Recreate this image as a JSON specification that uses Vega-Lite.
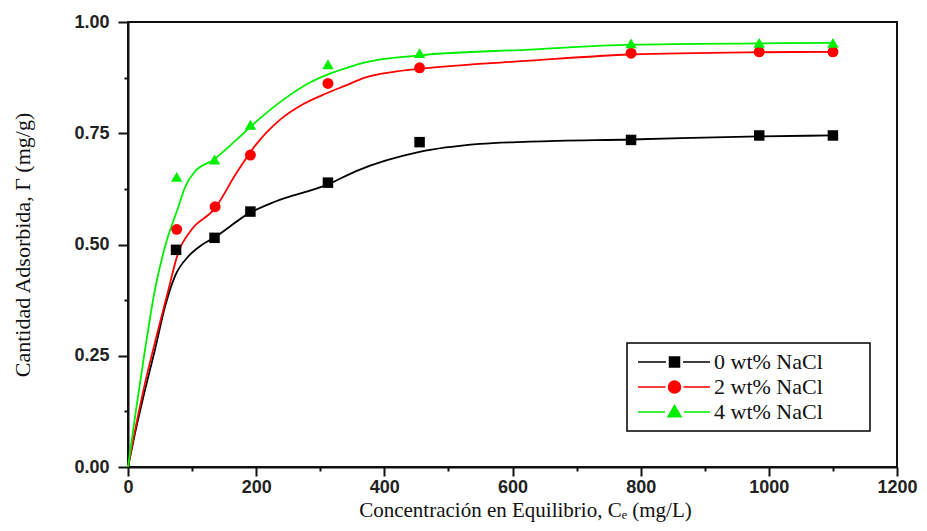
{
  "$schema": "https://vega.github.io/schema/vega-lite/v6.json",
  "width": 769,
  "height": 445,
  "autosize": {"type": "none"},
  "padding": {"left": 128, "top": 22, "right": 30, "bottom": 64},
  "background": "white",
  "datasets": {
    "fit": [
      {"x": 0, "y": 0, "series": "0 wt% NaCl"},
      {"x": 11, "y": 0.076, "series": "0 wt% NaCl"},
      {"x": 26.5, "y": 0.173, "series": "0 wt% NaCl"},
      {"x": 42, "y": 0.263, "series": "0 wt% NaCl"},
      {"x": 57.7, "y": 0.36, "series": "0 wt% NaCl"},
      {"x": 73, "y": 0.428, "series": "0 wt% NaCl"},
      {"x": 94, "y": 0.473, "series": "0 wt% NaCl"},
      {"x": 115, "y": 0.499, "series": "0 wt% NaCl"},
      {"x": 133, "y": 0.514, "series": "0 wt% NaCl"},
      {"x": 190, "y": 0.571, "series": "0 wt% NaCl"},
      {"x": 229, "y": 0.596, "series": "0 wt% NaCl"},
      {"x": 312, "y": 0.635, "series": "0 wt% NaCl"},
      {"x": 356, "y": 0.665, "series": "0 wt% NaCl"},
      {"x": 455, "y": 0.708, "series": "0 wt% NaCl"},
      {"x": 549, "y": 0.726, "series": "0 wt% NaCl"},
      {"x": 627, "y": 0.731, "series": "0 wt% NaCl"},
      {"x": 785, "y": 0.736, "series": "0 wt% NaCl"},
      {"x": 985, "y": 0.743, "series": "0 wt% NaCl"},
      {"x": 1100, "y": 0.745, "series": "0 wt% NaCl"},
      {"x": 0, "y": 0, "series": "2 wt% NaCl"},
      {"x": 11, "y": 0.083, "series": "2 wt% NaCl"},
      {"x": 26.5, "y": 0.188, "series": "2 wt% NaCl"},
      {"x": 47, "y": 0.308, "series": "2 wt% NaCl"},
      {"x": 63, "y": 0.398, "series": "2 wt% NaCl"},
      {"x": 78, "y": 0.48, "series": "2 wt% NaCl"},
      {"x": 99, "y": 0.533, "series": "2 wt% NaCl"},
      {"x": 135, "y": 0.58, "series": "2 wt% NaCl"},
      {"x": 169, "y": 0.66, "series": "2 wt% NaCl"},
      {"x": 200, "y": 0.725, "series": "2 wt% NaCl"},
      {"x": 237, "y": 0.78, "series": "2 wt% NaCl"},
      {"x": 273, "y": 0.815, "series": "2 wt% NaCl"},
      {"x": 310, "y": 0.84, "series": "2 wt% NaCl"},
      {"x": 346, "y": 0.861, "series": "2 wt% NaCl"},
      {"x": 367, "y": 0.874, "series": "2 wt% NaCl"},
      {"x": 419, "y": 0.889, "series": "2 wt% NaCl"},
      {"x": 455, "y": 0.895, "series": "2 wt% NaCl"},
      {"x": 627, "y": 0.913, "series": "2 wt% NaCl"},
      {"x": 785, "y": 0.927, "series": "2 wt% NaCl"},
      {"x": 985, "y": 0.932, "series": "2 wt% NaCl"},
      {"x": 1100, "y": 0.933, "series": "2 wt% NaCl"},
      {"x": 0, "y": 0, "series": "4 wt% NaCl"},
      {"x": 11, "y": 0.113, "series": "4 wt% NaCl"},
      {"x": 26.5, "y": 0.263, "series": "4 wt% NaCl"},
      {"x": 42, "y": 0.398, "series": "4 wt% NaCl"},
      {"x": 57.7, "y": 0.495, "series": "4 wt% NaCl"},
      {"x": 77, "y": 0.578, "series": "4 wt% NaCl"},
      {"x": 90, "y": 0.632, "series": "4 wt% NaCl"},
      {"x": 104.5, "y": 0.664, "series": "4 wt% NaCl"},
      {"x": 133, "y": 0.69, "series": "4 wt% NaCl"},
      {"x": 169, "y": 0.735, "series": "4 wt% NaCl"},
      {"x": 200, "y": 0.776, "series": "4 wt% NaCl"},
      {"x": 242, "y": 0.825, "series": "4 wt% NaCl"},
      {"x": 284, "y": 0.864, "series": "4 wt% NaCl"},
      {"x": 315, "y": 0.884, "series": "4 wt% NaCl"},
      {"x": 346, "y": 0.899, "series": "4 wt% NaCl"},
      {"x": 367, "y": 0.908, "series": "4 wt% NaCl"},
      {"x": 455, "y": 0.925, "series": "4 wt% NaCl"},
      {"x": 627, "y": 0.938, "series": "4 wt% NaCl"},
      {"x": 785, "y": 0.949, "series": "4 wt% NaCl"},
      {"x": 985, "y": 0.952, "series": "4 wt% NaCl"},
      {"x": 1100, "y": 0.953, "series": "4 wt% NaCl"}
    ],
    "pts": [
      {"x": 75, "y": 0.488, "series": "0 wt% NaCl"},
      {"x": 135, "y": 0.515, "series": "0 wt% NaCl"},
      {"x": 191, "y": 0.574, "series": "0 wt% NaCl"},
      {"x": 312, "y": 0.639, "series": "0 wt% NaCl"},
      {"x": 455, "y": 0.73, "series": "0 wt% NaCl"},
      {"x": 785, "y": 0.735, "series": "0 wt% NaCl"},
      {"x": 985, "y": 0.745, "series": "0 wt% NaCl"},
      {"x": 1100, "y": 0.745, "series": "0 wt% NaCl"},
      {"x": 76, "y": 0.534, "series": "2 wt% NaCl"},
      {"x": 136, "y": 0.585, "series": "2 wt% NaCl"},
      {"x": 191, "y": 0.701, "series": "2 wt% NaCl"},
      {"x": 312, "y": 0.862, "series": "2 wt% NaCl"},
      {"x": 455, "y": 0.897, "series": "2 wt% NaCl"},
      {"x": 785, "y": 0.93, "series": "2 wt% NaCl"},
      {"x": 985, "y": 0.933, "series": "2 wt% NaCl"},
      {"x": 1100, "y": 0.933, "series": "2 wt% NaCl"},
      {"x": 76, "y": 0.652, "series": "4 wt% NaCl"},
      {"x": 135, "y": 0.691, "series": "4 wt% NaCl"},
      {"x": 191, "y": 0.769, "series": "4 wt% NaCl"},
      {"x": 312, "y": 0.905, "series": "4 wt% NaCl"},
      {"x": 455, "y": 0.93, "series": "4 wt% NaCl"},
      {"x": 785, "y": 0.952, "series": "4 wt% NaCl"},
      {"x": 985, "y": 0.953, "series": "4 wt% NaCl"},
      {"x": 1100, "y": 0.953, "series": "4 wt% NaCl"}
    ]
  },
  "encoding": {
    "x": {
      "field": "x",
      "type": "quantitative",
      "scale": {"domain": [0, 1200], "nice": false, "zero": false},
      "axis": {
        "title": "Concentración en Equilibrio, Cₑ (mg/L)",
        "values": [0, 100, 200, 300, 400, 500, 600, 700, 800, 900, 1000, 1100, 1200],
        "format": "d",
        "labelExpr": "datum.value % 200 === 0 ? datum.label : ''",
        "labelOverlap": false,
        "labelFlush": false,
        "tickSize": {"condition": {"test": "datum.value % 200 === 0", "value": 9}, "value": 4},
        "labelPadding": 2,
        "titleX": 397,
        "titleY": 49,
        "titleAlign": "center",
        "titleBaseline": "alphabetic",
        "titleFontSize": 21
      }
    },
    "y": {
      "field": "y",
      "type": "quantitative",
      "scale": {"domain": [0, 1], "nice": false, "zero": false},
      "axis": {
        "title": "Cantidad Adsorbida, Γ (mg/g)",
        "values": [0, 0.125, 0.25, 0.375, 0.5, 0.625, 0.75, 0.875, 1],
        "format": ".2f",
        "labelExpr": "datum.value % 0.25 === 0 ? datum.label : ''",
        "labelOverlap": false,
        "labelFlush": false,
        "tickSize": {"condition": {"test": "datum.value % 0.25 === 0", "value": 10}, "value": 4},
        "labelPadding": 9,
        "titleX": -106,
        "titleY": 222.5,
        "titleAngle": -90,
        "titleAlign": "center",
        "titleBaseline": "middle",
        "titleFontSize": 22
      }
    },
    "color": {
      "field": "series",
      "type": "nominal",
      "scale": {
        "domain": ["0 wt% NaCl", "2 wt% NaCl", "4 wt% NaCl"],
        "range": ["#000000", "#ff0000", "#00ee00"]
      },
      "legend": {
        "title": null,
        "orient": "none",
        "legendX": 499,
        "legendY": 321,
        "padding": 8,
        "rowPadding": 3,
        "strokeColor": "black",
        "fillColor": "white",
        "symbolSize": 100,
        "symbolStrokeWidth": 1.5,
        "labelOffset": 57,
        "labelFont": "Liberation Serif",
        "labelFontSize": 22,
        "labelColor": "#111",
        "labelLimit": 300,
        "labelExpr": "datum.label + '\u00a0\u00a0\u00a0\u00a0\u00a0\u00a0\u00a0\u200b'",
        "encode": {
          "symbols": {
            "update": {
              "shape": {"signal": "datum.value === '0 wt% NaCl' ? 'M-1.6,0H4M7.4,0H12.8M4.7,-1H6.7V1H4.7Z' : datum.value === '2 wt% NaCl' ? 'M-1.6,0H3.9M7.5,0H12.8M4.5,0A1.2,1.2 0 1,0 6.9,0A1.2,1.2 0 1,0 4.5,0Z' : 'M-1.6,0H3.8M7.6,0H12.8M5.7,-1.3L7,0.95H4.4Z'"}
            }
          }
        }
      }
    }
  },
  "layer": [
    {
      "data": {"name": "fit"},
      "mark": {"type": "line", "interpolate": "monotone", "strokeWidth": 1.8}
    },
    {
      "data": {"name": "pts"},
      "transform": [{"filter": "datum.series === '0 wt% NaCl'"}],
      "mark": {"type": "point", "shape": "square", "filled": true, "opacity": 1, "size": 110}
    },
    {
      "data": {"name": "pts"},
      "transform": [{"filter": "datum.series === '2 wt% NaCl'"}],
      "mark": {"type": "point", "shape": "circle", "filled": true, "opacity": 1, "size": 120}
    },
    {
      "data": {"name": "pts"},
      "transform": [{"filter": "datum.series === '4 wt% NaCl'"}],
      "mark": {"type": "point", "shape": "triangle-up", "filled": true, "opacity": 1, "size": 130}
    }
  ],
  "config": {
    "view": {"stroke": "#111", "strokeWidth": 2},
    "legend": {"strokeWidth": 1.5},
    "axis": {
      "grid": false,
      "domainColor": "#111",
      "domainWidth": 2,
      "tickColor": "#111",
      "tickWidth": 2,
      "labelFont": "Liberation Sans",
      "labelFontWeight": "bold",
      "labelFontSize": 18,
      "labelColor": "#222",
      "titleFont": "Liberation Serif",
      "titleFontWeight": "normal",
      "titleColor": "#111"
    }
  }
}
